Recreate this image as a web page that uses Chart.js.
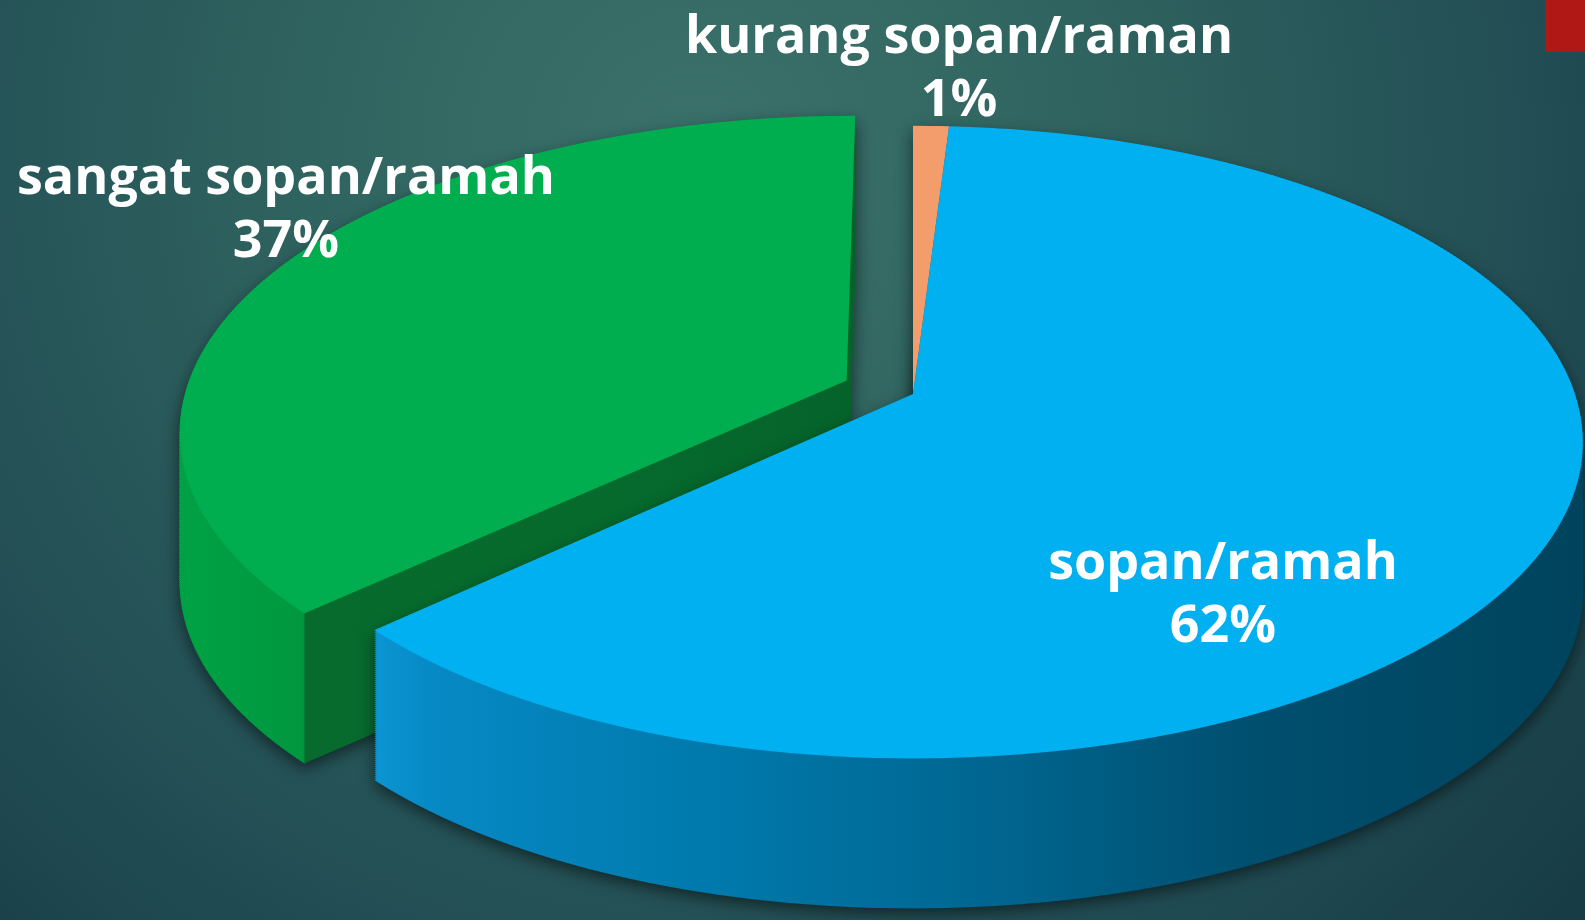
<!DOCTYPE html>
<html>
<head>
<meta charset="utf-8">
<script src="https://cdn.jsdelivr.net/npm/chart.js@4.4.1/dist/chart.umd.min.js"></script>
<style>
  html, body { margin: 0; padding: 0; background: #1d4a50; overflow: hidden; }
  #wrap { position: relative; width: 1585px; height: 920px; }
</style>
</head>
<body>
<div id="wrap"><canvas id="pie" width="1585" height="920"></canvas></div>
<script>
/* ── data ── */
const LABELS = ['kurang sopan/raman', 'sopan/ramah', 'sangat sopan/ramah'];
const VALUES = [1, 62, 37];
const TOP_COLORS = ['#f39d6c', '#00b0f0', '#00ad4f'];

/* ── look ── */
const W = 1585, H = 920;
const EXPLODE = [0, 0, 0.11];             // fraction of radius, along slice mid-angle
const CX = 913, CY = 394;                 // screen position of pie centre
const PA = 662, PK = 309, PC = 0.152;     // perspective: horizontal size, vertical size, foreshortening
const DEPTH = 150, STRIP = 2;
const LABEL_POS = [[959, 53], [1223, 579], [286, 194]];
const LABEL_FONT = '700 52px "Open Sans", "DejaVu Sans", sans-serif';

// screen x of a point on the slice rim (used to place the wall colour break)
function rimX(arc, i, ang) {
  const mid = (arc.startAngle + arc.endAngle) / 2;
  const u = EXPLODE[i] * Math.cos(mid) + Math.cos(ang);
  const v = EXPLODE[i] * Math.sin(mid) + Math.sin(ang);
  return CX + PA * u / (1 - PC * v);
}

function wallStops(arcs) {
  const gx = rimX(arcs[2], 2, arcs[2].startAngle);
  const bx = rimX(arcs[1], 1, arcs[1].endAngle);
  return [
    [[0, '#c27249'], [W, '#a85e3a']],
    [[bx - 20, '#0c9cd9'], [bx + 10, '#0a93d0'], [bx + 60, '#0689c4'], [700, '#007aad'],
     [1000, '#00658f'], [1250, '#004f6f'], [W, '#00435c']],
    [[150, '#00a446'], [gx - 30, '#009a40'], [gx - 1, '#00973e'], [gx + 1, '#076b2e'],
     [600, '#066a2d'], [900, '#05622a']]
  ];
}

// top face of one slice, drawn by the arc element in thin strips so it gets perspective
function faceMask(arc, i) {
  const cv = document.createElement('canvas');
  cv.width = W; cv.height = H;
  const c = cv.getContext('2d');
  const r = arc.outerRadius;
  const mid = (arc.startAngle + arc.endAngle) / 2;
  const ex = Math.cos(mid) * EXPLODE[i] * r, ey = Math.sin(mid) * EXPLODE[i] * r;
  for (let y0 = 40; y0 < 820; y0 += STRIP) {
    const ym = y0 + STRIP / 2;
    const vm = (ym - CY) / (PK + PC * (ym - CY));
    const q = 1 - PC * vm;
    const sx = PA / (r * q), sy = PK / (q * q * r);
    c.save();
    c.beginPath(); c.rect(0, y0, W, STRIP); c.clip();
    c.setTransform(sx, 0, 0, sy, CX - sx * arc.x, ym - sy * (arc.y + vm * r));
    c.translate(ex, ey);
    arc.draw(c);
    c.restore();
  }
  return cv;
}

function drawWall(ctx, mask, stops) {
  const cv = document.createElement('canvas');
  cv.width = W; cv.height = H;
  const c = cv.getContext('2d');
  for (let d = 2; d <= DEPTH; d += 2) c.drawImage(mask, 0, d);
  c.globalCompositeOperation = 'source-in';
  const g = c.createLinearGradient(0, 0, W, 0);
  stops.forEach(([x, col]) => g.addColorStop(Math.min(Math.max(x / W, 0), 1), col));
  c.fillStyle = g;
  c.fillRect(0, 0, W, H);
  ctx.save();
  ctx.shadowColor = 'rgba(0,0,0,0.55)';
  ctx.shadowBlur = 16;
  ctx.shadowOffsetY = 5;
  ctx.drawImage(cv, 0, 0);
  ctx.restore();
}

const pie3d = {
  id: 'pie3d',
  beforeDraw(chart) {
    const ctx = chart.ctx;
    const bg = ctx.createRadialGradient(700, 150, 0, 700, 150, 1150);
    bg.addColorStop(0, '#3b716b');
    bg.addColorStop(0.35, '#2f635f');
    bg.addColorStop(0.7, '#234f55');
    bg.addColorStop(1, '#173c46');
    ctx.fillStyle = bg;
    ctx.fillRect(0, 0, W, H);
    ctx.fillStyle = '#b01816';
    ctx.fillRect(1545, 0, 40, 52);
  },
  beforeDatasetsDraw(chart) {
    const ctx = chart.ctx;
    const arcs = chart.getDatasetMeta(0).data;
    const masks = arcs.map((arc, i) => faceMask(arc, i));
    const stops = wallStops(arcs);
    const order = [2, 0, 1];
    order.forEach(i => drawWall(ctx, masks[i], stops[i]));
    order.forEach(i => ctx.drawImage(masks[i], 0, 0));
    return false;
  },
  afterDraw(chart) {
    const ctx = chart.ctx;
    ctx.save();
    ctx.fillStyle = '#ffffff';
    ctx.font = LABEL_FONT;
    ctx.textAlign = 'center';
    ctx.textBaseline = 'alphabetic';
    LABELS.forEach((lab, i) => {
      const [x, y] = LABEL_POS[i];
      ctx.fillText(lab, x, y);
      ctx.fillText(VALUES[i] + '%', x, y + 63);
    });
    ctx.restore();
  }
};

new Chart(document.getElementById('pie'), {
  type: 'pie',
  data: {
    labels: LABELS,
    datasets: [{ data: VALUES, backgroundColor: TOP_COLORS, borderWidth: 0, offset: 0 }]
  },
  options: {
    responsive: false,
    animation: false,
    events: [],
    layout: { padding: 0 },
    plugins: { legend: { display: false }, tooltip: { enabled: false } }
  },
  plugins: [pie3d]
});
</script>
</body>
</html>
